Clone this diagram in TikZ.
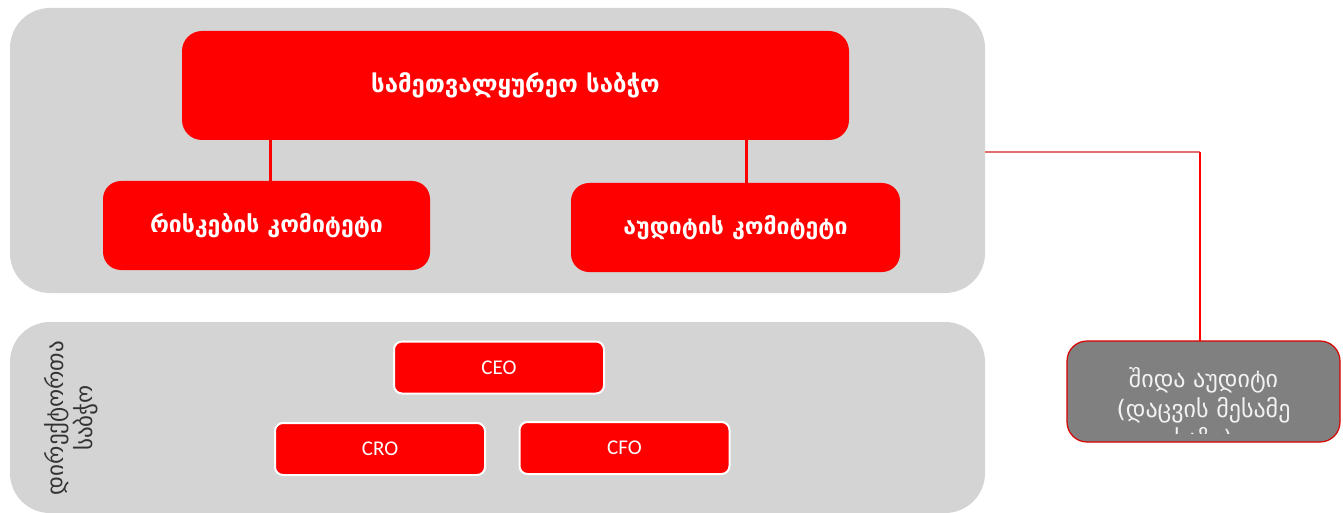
\documentclass[tikz,border=0pt]{standalone}
\usepackage{fontspec}
\newfontfamily\geo{DejaVu Sans}
\newfontfamily\carl{Carlito}
\definecolor{panelgray}{HTML}{D4D4D4}
\definecolor{boxred}{HTML}{FF0000}
\definecolor{iagray}{HTML}{808080}
\definecolor{hlred}{HTML}{E07070}
\tikzset{
  panel/.style={fill=panelgray, draw=none, rounded corners=40pt, inner sep=0pt, outer sep=0pt},
  bigbox/.style={fill=boxred, draw=none, rounded corners=20pt, inner sep=0pt, outer sep=0pt,
     text=white, font=\geo\bfseries\fontsize{24}{28}\selectfont},
  smallbox/.style={fill=boxred, draw=white, line width=2pt, rounded corners=8pt, inner sep=0pt, outer sep=0pt,
     text=white, font=\carl\fontsize{21}{24}\selectfont, minimum width=210pt, minimum height=52pt},
  iabox/.style={fill=iagray, draw=boxred!85!black, line width=1.2pt, rounded corners=20pt, inner sep=0pt, outer sep=0pt},
  conn/.style={draw=boxred, line width=3pt},
  hline/.style={draw=hlred, line width=1.8pt},
  vline/.style={draw=boxred, line width=1.4pt},
}
\begin{document}
\begin{tikzpicture}[x=1pt,y=-1pt]
\useasboundingbox (0,0) rectangle (1343,513);
\fill[white] (0,0) rectangle (1343,513);
% panels
\node[panel, minimum width=975pt, minimum height=285pt] (top) at (497.5,150.5) {};
\node[panel, minimum width=975pt, minimum height=191pt] (bottom) at (497.5,417.5) {};
% top boxes
\node[bigbox, minimum width=667pt, minimum height=109pt] (sb) at (515.5,85.5) {სამეთვალყურეო საბჭო};
\node[bigbox, font=\geo\bfseries\fontsize{23}{28}\selectfont, rounded corners=18pt, minimum width=327pt, minimum height=89pt] (rk) at (266.5,225.5) {რისკების კომიტეტი};
\node[bigbox, font=\geo\bfseries\fontsize{23}{28}\selectfont, rounded corners=18pt, minimum width=329pt, minimum height=89pt] (au) at (735.5,227.5) {აუდიტის კომიტეტი};
\draw[conn] ([xshift=3.5pt]rk.north) -- ([xshift=3.5pt]rk.north |- sb.south);
\draw[conn] ([xshift=10.5pt]au.north) -- ([xshift=10.5pt]au.north |- sb.south);
% bottom boxes
\node[smallbox] (ceo) at (499,367.5) {CEO};
\node[smallbox] (cro) at (380,449) {CRO};
\node[smallbox] (cfo) at (624.5,448) {CFO};
\node[rotate=90, align=center, text=black!80, font=\geo\fontsize{23}{29}\selectfont] (dir) at (71,418) {დირექტორთა\\საბჭო};
% internal audit
\node[iabox, minimum width=273pt, minimum height=101pt] (ia) at (1203.5,391.5) {};
\begin{scope}
\clip (1070,344) rectangle (1337,433);
\node[anchor=north, inner sep=0pt, align=center, text=white!95!black, font=\geo\fontsize{24}{30}\selectfont] (iat) at (1203.5,367) {შიდა აუდიტი\\(დაცვის მესამე\\ხაზი)};
\end{scope}
% connector to internal audit
\coordinate (bend) at (1200,152);
\draw[hline] (top.east |- bend) -- (bend);
\draw[vline] (bend) -- (bend |- ia.north);
\end{tikzpicture}
\end{document}
